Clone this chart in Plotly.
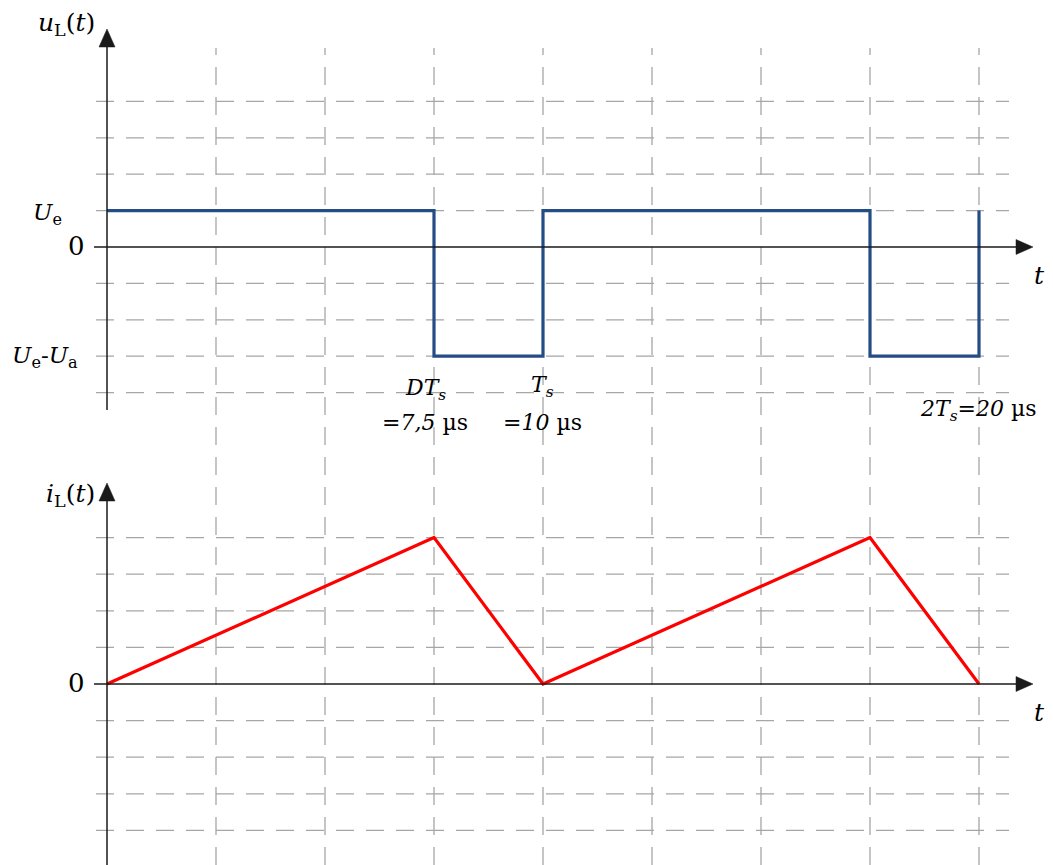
import plotly.graph_objects as go

# ---------------- data ----------------
t_u = [0, 7.5, 10, 17.5, 20]          # µs, switching instants
u_L = [1, -3, 1, -3, 1]               # voltage levels (Ue = 1, Ue-Ua = -3)
t_i = [0, 7.5, 10, 17.5, 20]          # µs
i_L = [0, 4, 0, 4, 0]                 # inductor current
grid_t = [2.5, 5, 7.5, 10, 12.5, 15, 17.5, 20]
grid_u = [-4, -3, -2, -1, 1, 2, 3, 4]
grid_i = [-4, -3, -2, -1, 1, 2, 3, 4]

# ---------------- layout geometry (pixels) ----------------
W, H = 1053, 865
X0, XS = 107, 43.6          # px of t=0, px per µs
Y0A, YSA = 247, 36.4        # top chart zero line px, px per unit
Y0B, YSB = 684, 36.6        # bottom chart zero line px, px per unit

def dx(px):
    return (px - X0) / XS

def dya(py):
    return (Y0A - py) / YSA

def dyb(py):
    return (Y0B - py) / YSB

def pxx(px):
    return px / W

def pyy(py):
    return 1 - py / H

FONT = "DejaVu Serif"
BLUE = "#244C85"
RED = "#FF0000"
GRID = "#A6A6A6"
AX = "#1A1A1A"

fig = go.Figure()
fig.add_trace(go.Scatter(x=t_u, y=u_L, mode="lines", line=dict(color=BLUE, width=3.2, shape="hv"),
                         yaxis="y", hoverinfo="skip"))
fig.add_trace(go.Scatter(x=t_i, y=i_L, mode="lines", line=dict(color=RED, width=3.2),
                         yaxis="y2", hoverinfo="skip"))

shapes = []
dash = "18px,12px"
# vertical dashed grid lines spanning both charts
for t in grid_t:
    shapes.append(dict(type="line", xref="x", yref="paper", x0=t, x1=t, y0=0, y1=pyy(48),
                       line=dict(color=GRID, width=1.3, dash=dash), layer="below"))
# horizontal dashed grid lines
for v in grid_u:
    shapes.append(dict(type="line", xref="x", yref="y", x0=dx(96), x1=dx(1009), y0=v, y1=v,
                       line=dict(color=GRID, width=1.3, dash=dash), layer="below"))
for v in grid_i:
    shapes.append(dict(type="line", xref="x", yref="y2", x0=dx(96), x1=dx(1009), y0=v, y1=v,
                       line=dict(color=GRID, width=1.3, dash=dash), layer="below"))

# axes (lines + arrow heads)
def axes(yref, dy, y0px, ytop_px, ybot_px):
    s = []
    s.append(dict(type="line", xref="x", yref=yref, x0=dx(94), x1=dx(1016), y0=0, y1=0,
                  line=dict(color=AX, width=1.5)))
    s.append(dict(type="path", xref="x", yref=yref,
                  path=f"M {dx(1016)},{dy(y0px-7.5)} L {dx(1033)},0 L {dx(1016)},{dy(y0px+7.5)} Z",
                  fillcolor=AX, line=dict(color=AX, width=0.5)))
    s.append(dict(type="line", xref="x", yref=yref, x0=0, x1=0, y0=dy(ybot_px), y1=dy(ytop_px + 17),
                  line=dict(color=AX, width=1.5)))
    s.append(dict(type="path", xref="x", yref=yref,
                  path=f"M {dx(99)},{dy(ytop_px+18)} L 0,{dy(ytop_px)} L {dx(115)},{dy(ytop_px+18)} Z",
                  fillcolor=AX, line=dict(color=AX, width=0.5)))
    return s

shapes += axes("y", dya, Y0A, 29, 410)
shapes += axes("y2", dyb, Y0B, 483, 866)

def txt(text, x, y, xanchor="center", size=23):
    return dict(text=text, x=pxx(x), y=pyy(y), xref="paper", yref="paper", showarrow=False,
                xanchor=xanchor, yanchor="middle", font=dict(family=FONT, size=size, color="#000000"))

ann = [
    txt("<i>u</i><sub>L</sub>(<i>t</i>)", 97, 24, "right", 25),
    txt("<i>U</i><sub>e</sub>", 64, 214, "right", 23),
    txt("0", 87, 246, "right", 26),
    txt("<i>U</i><sub>e</sub>-<i>U</i><sub>a</sub>", 80, 357, "right", 23),
    txt("<i>t</i>", 1039, 275, "center", 25),
    txt("<i>DT<sub>s</sub></i>", 425, 389, "center", 22),
    txt("<i>=7,5</i> µs", 425, 422, "center", 22),
    txt("<i>T<sub>s</sub></i>", 542, 387, "center", 22),
    txt("<i>=10</i> µs", 542, 422, "center", 22),
    txt("<i>2T<sub>s</sub>=20</i> µs", 978, 410, "center", 22),
    txt("<i>i</i><sub>L</sub>(<i>t</i>)", 97, 495, "right", 25),
    txt("0", 87, 683, "right", 26),
    txt("<i>t</i>", 1039, 712, "center", 25),
]

fig.update_layout(
    width=W, height=H,
    margin=dict(l=0, r=0, t=0, b=0),
    paper_bgcolor="white", plot_bgcolor="white",
    showlegend=False,
    xaxis=dict(range=[dx(0), dx(W)], visible=False, domain=[0, 1]),
    yaxis=dict(range=[dya(H), dya(0)], visible=False, domain=[0, 1]),
    yaxis2=dict(range=[dyb(H), dyb(0)], visible=False, overlaying="y", domain=[0, 1]),
    shapes=shapes,
    annotations=ann,
)

fig.write_html("out.html", config={"displayModeBar": False},
               post_script="document.body.style.margin='0px';document.body.style.overflow='hidden';")
